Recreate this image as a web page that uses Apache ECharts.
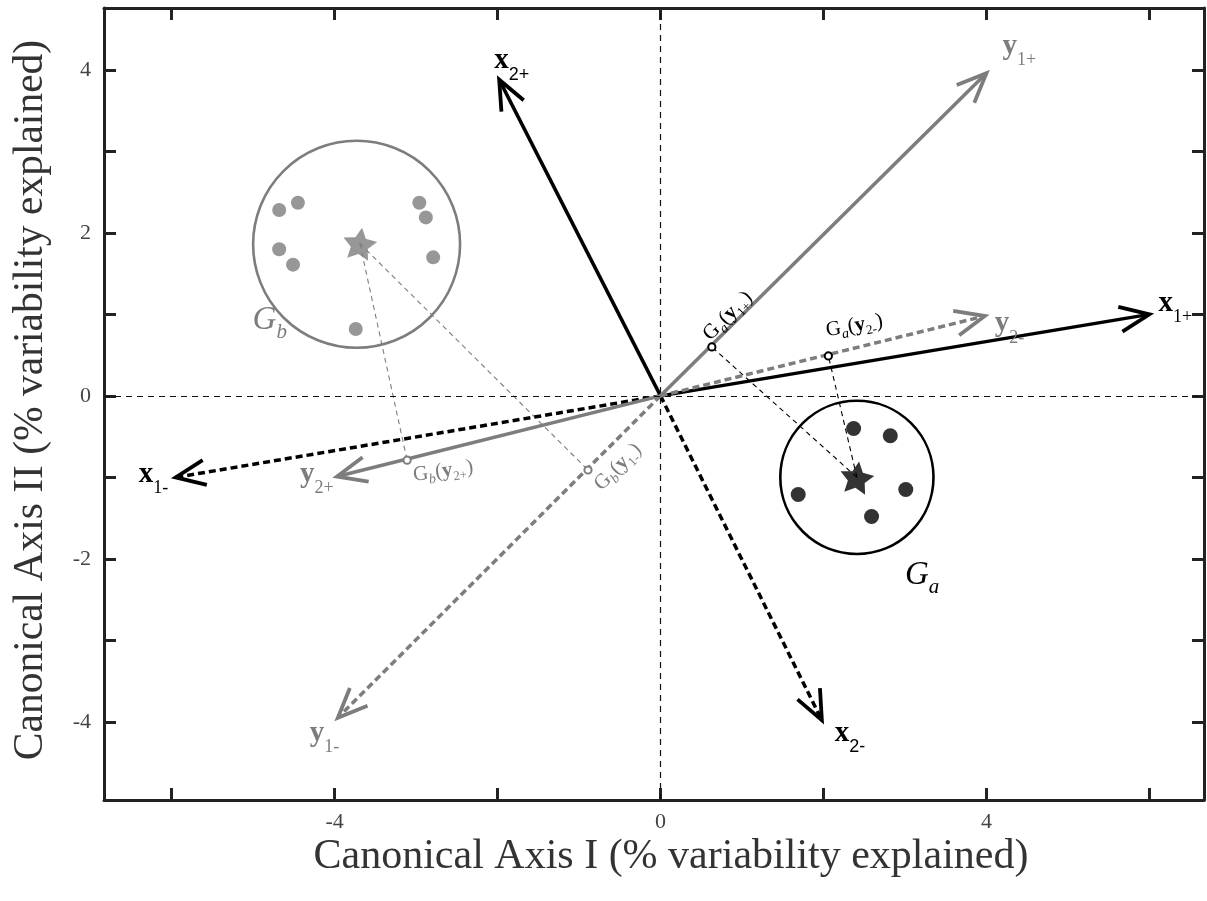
<!DOCTYPE html>
<html>
<head>
<meta charset="utf-8">
<script src="https://cdn.jsdelivr.net/npm/echarts@6/dist/echarts.min.js"></script>
<style>
  html, body { margin: 0; padding: 0; background: #fff; }
  #chart { width: 1207px; height: 901px; }
</style>
</head>
<body>
<div id="chart"></div>
<script>
// ---- Canonical structure vectors (tip coordinates) ----
const vectorNames = ['x1+', 'x1-', 'x2+', 'x2-', 'y1+', 'y1-', 'y2+', 'y2-'];
const vectorX = [6.0, -5.95, -1.98, 1.98, 4.0, -3.96, -3.97, 3.98];
const vectorY = [1.0, -1.0, 3.88, -3.98, 3.96, -3.95, -0.99, 0.98];

// ---- Group a ----
const groupAX = [2.37, 2.82, 1.69, 3.01, 2.59];
const groupAY = [-0.40, -0.49, -1.21, -1.15, -1.48];
const centroidA = [2.41, -1.00];
const circleA = [2.41, -1.00];
const radiusA = 0.94;

// ---- Group b ----
const groupBX = [-4.68, -4.45, -4.68, -4.51, -2.96, -2.88, -2.79, -3.74];
const groupBY = [2.28, 2.37, 1.80, 1.61, 2.37, 2.19, 1.70, 0.82];
const centroidB = [-3.69, 1.87];
const circleB = [-3.73, 1.86];
const radiusB = 1.27;

// ---- Centroid projections onto the y vectors ----
const projGroup = ['a', 'a', 'b', 'b'];
const projVector = ['1+', '2-', '2+', '1-'];
const projX = [0.63, 2.06, -3.11, -0.89];
const projY = [0.60, 0.49, -0.79, -0.91];

// ---- Axis ticks and titles ----
const xTicks = [-6, -4, -2, 0, 2, 4, 6];
const xTickLabels = [-4, 0, 4];
const yTicks = [-4, -3, -2, -1, 0, 1, 2, 3, 4];
const yTickLabels = [-4, -2, 0, 2, 4];
const xTitle = 'Canonical Axis I (% variability explained)';
const yTitle = 'Canonical Axis II (% variability explained)';

// ---- Styling ----
const BLACK = '#000000';
const GRAY = '#7d7d7d';
const FRAME = '#222222';
const SERIF = '"Liberation Serif", "DejaVu Serif", serif';
const SANS = '"Liberation Sans", "DejaVu Sans", sans-serif';

const vectorStyle = {
  'x1+': { color: BLACK, dashed: false, dx: 9,   dy: -11, subFont: SERIF },
  'x1-': { color: BLACK, dashed: true,  dx: -37, dy: -3,  subFont: SERIF },
  'x2+': { color: BLACK, dashed: false, dx: -5,  dy: -19, subFont: SANS },
  'x2-': { color: BLACK, dashed: true,  dx: 13,  dy: 13,  subFont: SANS },
  'y1+': { color: GRAY,  dashed: false, dx: 16,  dy: -27, subFont: SERIF },
  'y1-': { color: GRAY,  dashed: true,  dx: -28, dy: 16,  subFont: SERIF },
  'y2+': { color: GRAY,  dashed: false, dx: -37, dy: -2,  subFont: SERIF },
  'y2-': { color: GRAY,  dashed: true,  dx: 10,  dy: 8,   subFont: SERIF }
};

// label placement for projection markers: centre offset (px) and rotation (deg)
const projLabelLayout = [
  { dx: 16, dy: -31, rot: 45 },
  { dx: 26, dy: -30, rot: 10 },
  { dx: 36, dy: 11, rot: 8 },
  { dx: 30, dy: -3, rot: 45 }
];

const groups = {
  a: { color: BLACK, centroid: centroidA, circle: circleA, r: radiusA, labelDx: 48, labelDy: 98 },
  b: { color: GRAY,  centroid: centroidB, circle: circleB, r: radiusB, labelDx: -104, labelDy: 76 }
};

const STAR = 'path://M50,2 L64.69,31.77 L97.55,36.55 L73.78,59.73 L79.39,92.45 L50,77 L20.61,92.45 L26.22,59.73 L2.45,36.55 L35.31,31.77 Z';

const chart = echarts.init(document.getElementById('chart'), null, { renderer: 'canvas' });

const axisCommon = {
  type: 'value',
  splitLine: { show: false },
  axisLine: { show: true, onZero: false, lineStyle: { color: FRAME, width: 3 } },
  axisTick: { show: true, inside: true, length: 12, lineStyle: { color: FRAME, width: 3 } }
};

function xAxisDef(position, showLabel) {
  return Object.assign({}, axisCommon, {
    position: position,
    min: -6.83, max: 6.67,
    axisTick: Object.assign({}, axisCommon.axisTick, { customValues: xTicks }),
    axisLabel: {
      show: showLabel, customValues: xTickLabels, margin: 11,
      fontFamily: SERIF, fontSize: 22, color: '#444'
    }
  });
}
function yAxisDef(position, showLabel) {
  return Object.assign({}, axisCommon, {
    position: position,
    min: -4.96, max: 4.76,
    axisTick: Object.assign({}, axisCommon.axisTick, { customValues: yTicks }),
    axisLabel: {
      show: showLabel, customValues: yTickLabels, margin: 13,
      fontFamily: SERIF, fontSize: 22, color: '#444'
    }
  });
}

// rich text for a vector label such as x1+ : bold letter + subscript
function vectorRich(color, subFont) {
  return {
    m: { fontFamily: SERIF, fontWeight: 'bold', fontSize: 29, lineHeight: 29, fill: color },
    s: { fontFamily: subFont, fontSize: 18, lineHeight: 46, verticalAlign: 'bottom', fill: color }
  };
}

const series = [];

// zero reference lines
series.push({
  type: 'line', data: [], silent: true,
  markLine: {
    silent: true, symbol: 'none', label: { show: false },
    lineStyle: { color: '#111', width: 1.2, type: [6, 5] },
    data: [{ xAxis: 0 }, { yAxis: 0 }]
  },
  z: 1
});

// dashed projection lines from centroids
series.push({
  type: 'custom', coordinateSystem: 'cartesian2d', z: 2,
  data: projX.map((x, i) => [x, projY[i], i]),
  renderItem: function (params, api) {
    const i = api.value(2);
    const g = groups[projGroup[i]];
    const p = api.coord([api.value(0), api.value(1)]);
    const c = api.coord(g.centroid);
    return {
      type: 'line',
      shape: { x1: c[0], y1: c[1], x2: p[0], y2: p[1] },
      style: { stroke: g.color, lineWidth: 1.1, lineDash: [5, 4] }
    };
  }
});

// canonical vectors with open arrowheads and labels
series.push({
  type: 'custom', coordinateSystem: 'cartesian2d', z: 3,
  data: vectorNames.map((n, i) => [vectorX[i], vectorY[i], i]),
  renderItem: function (params, api) {
    const i = api.value(2);
    const name = vectorNames[i];
    const st = vectorStyle[name];
    const o = api.coord([0, 0]);
    const t = api.coord([api.value(0), api.value(1)]);
    const ang = Math.atan2(t[1] - o[1], t[0] - o[0]);
    const L = 32, h = 23 * Math.PI / 180;
    const b1 = [t[0] - L * Math.cos(ang - h), t[1] - L * Math.sin(ang - h)];
    const b2 = [t[0] - L * Math.cos(ang + h), t[1] - L * Math.sin(ang + h)];
    const end = [t[0] - 3 * Math.cos(ang), t[1] - 3 * Math.sin(ang)];
    return {
      type: 'group',
      children: [
        {
          type: 'line',
          shape: { x1: o[0], y1: o[1], x2: end[0], y2: end[1] },
          style: { stroke: st.color, lineWidth: 3.5, lineDash: st.dashed ? [7, 4] : null }
        },
        {
          type: 'polyline',
          shape: { points: [b1, t, b2] },
          style: { stroke: st.color, lineWidth: 3.8, fill: null, lineJoin: 'miter', miterLimit: 10 }
        },
        {
          type: 'text',
          x: t[0] + st.dx, y: t[1] + st.dy,
          style: {
            text: '{m|' + name[0] + '}{s|' + name.slice(1) + '}',
            rich: vectorRich(st.color, st.subFont),
            align: 'left', verticalAlign: 'middle', fill: st.color
          }
        }
      ]
    };
  }
});

// group circles and their names
series.push({
  type: 'custom', coordinateSystem: 'cartesian2d', z: 4,
  data: [['a'], ['b']].map((k, i) => [groups[k[0]].circle[0], groups[k[0]].circle[1], i]),
  renderItem: function (params, api) {
    const key = api.value(2) === 0 ? 'a' : 'b';
    const g = groups[key];
    const c = api.coord([api.value(0), api.value(1)]);
    const r = api.size([g.r, 0])[0];
    return {
      type: 'group',
      children: [
        {
          type: 'circle',
          shape: { cx: c[0], cy: c[1], r: r },
          style: { stroke: g.color, lineWidth: 2.6, fill: null }
        },
        {
          type: 'text',
          x: c[0] + g.labelDx, y: c[1] + g.labelDy,
          style: {
            text: '{G|G}{s|' + key + '}',
            rich: {
              G: { fontFamily: SERIF, fontStyle: 'italic', fontSize: 33, lineHeight: 33, fill: g.color },
              s: { fontFamily: SERIF, fontStyle: 'italic', fontSize: 21, lineHeight: 45, verticalAlign: 'bottom', fill: g.color }
            },
            align: 'left', verticalAlign: 'middle', fill: g.color
          }
        }
      ]
    };
  }
});

// group observations
series.push({
  type: 'scatter', z: 5, symbol: 'circle', symbolSize: 15,
  itemStyle: { color: BLACK },
  data: groupAX.map((x, i) => [x, groupAY[i]])
});
series.push({
  type: 'scatter', z: 5, symbol: 'circle', symbolSize: 14,
  itemStyle: { color: GRAY },
  data: groupBX.map((x, i) => [x, groupBY[i]])
});

// centroids
series.push({
  type: 'scatter', z: 6, symbol: STAR, symbolSize: [34, 32], symbolRotate: -8,
  itemStyle: { color: BLACK }, data: [centroidA]
});
series.push({
  type: 'scatter', z: 6, symbol: STAR, symbolSize: [34, 32], symbolRotate: -8,
  itemStyle: { color: GRAY }, data: [centroidB]
});

// projection markers and their labels
series.push({
  type: 'custom', coordinateSystem: 'cartesian2d', z: 7,
  data: projX.map((x, i) => [x, projY[i], i]),
  renderItem: function (params, api) {
    const i = api.value(2);
    const g = groups[projGroup[i]];
    const lay = projLabelLayout[i];
    const p = api.coord([api.value(0), api.value(1)]);
    const col = g.color;
    return {
      type: 'group',
      children: [
        {
          type: 'circle',
          shape: { cx: p[0], cy: p[1], r: 3.6 },
          style: { stroke: col, lineWidth: 2, fill: '#fff' }
        },
        {
          type: 'text',
          x: p[0] + lay.dx, y: p[1] + lay.dy,
          rotation: lay.rot * Math.PI / 180,
          style: {
            text: '{G|G}{gs|' + projGroup[i] + '}{p|(}{y|y}{ys|' + projVector[i] + '}{p|)}',
            rich: {
              G: { fontFamily: SERIF, fontSize: 21, lineHeight: 21, fill: col },
              gs: { fontFamily: SERIF, fontStyle: 'italic', fontSize: 14, lineHeight: 27, verticalAlign: 'bottom', fill: col },
              p: { fontFamily: SERIF, fontSize: 21, lineHeight: 21, fill: col },
              y: { fontFamily: SERIF, fontWeight: 'bold', fontSize: 21, lineHeight: 21, fill: col },
              ys: { fontFamily: SERIF, fontSize: 13, lineHeight: 27, verticalAlign: 'bottom', fill: col }
            },
            align: 'center', verticalAlign: 'middle', fill: col
          }
        }
      ]
    };
  }
});

chart.setOption({
  animation: false,
  backgroundColor: '#fff',
  grid: { left: 104, top: 8, width: 1100, height: 792, containLabel: false },
  xAxis: [xAxisDef('bottom', true), xAxisDef('top', false)],
  yAxis: [yAxisDef('left', true), yAxisDef('right', false)],
  graphic: [
    {
      type: 'text', x: 671, y: 857,
      style: { text: xTitle, fontFamily: SERIF, fontSize: 42, fill: '#333', align: 'center', verticalAlign: 'middle' }
    },
    {
      type: 'text', x: 31, y: 400, rotation: Math.PI / 2,
      style: { text: yTitle, fontFamily: SERIF, fontSize: 41.5, fill: '#333', align: 'center', verticalAlign: 'middle' }
    }
  ],
  series: series
});
</script>
</body>
</html>
